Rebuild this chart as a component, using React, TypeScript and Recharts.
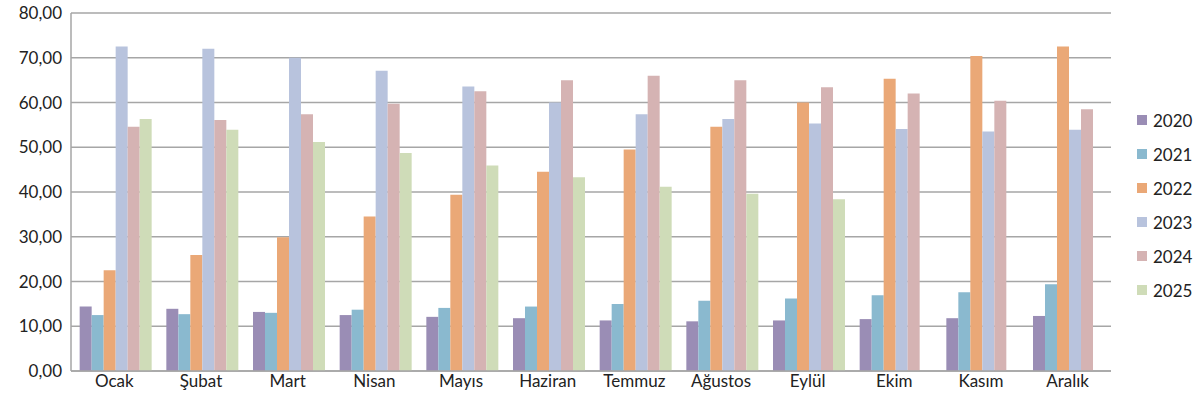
import React from 'react';
import { BarChart, Bar, XAxis, YAxis, CartesianGrid, Legend } from 'recharts';

// Monthly values per year
const months = ['Ocak', 'Şubat', 'Mart', 'Nisan', 'Mayıs', 'Haziran', 'Temmuz', 'Ağustos', 'Eylül', 'Ekim', 'Kasım', 'Aralık'];

const y2020 = [14.4, 13.9, 13.2, 12.5, 12.1, 11.8, 11.3, 11.1, 11.3, 11.6, 11.8, 12.3];
const y2021 = [12.5, 12.7, 13.0, 13.7, 14.1, 14.4, 15.0, 15.7, 16.2, 16.9, 17.6, 19.4];
const y2022 = [22.5, 25.9, 29.9, 34.5, 39.4, 44.5, 49.5, 54.6, 60.0, 65.3, 70.4, 72.5];
const y2023 = [72.5, 72.0, 70.0, 67.1, 63.6, 60.0, 57.4, 56.3, 55.3, 54.1, 53.5, 53.9];
const y2024 = [54.6, 56.1, 57.4, 59.7, 62.5, 65.0, 66.0, 65.0, 63.4, 62.0, 60.4, 58.5];
const y2025 = [56.3, 53.9, 51.2, 48.7, 45.9, 43.3, 41.2, 39.6, 38.4, null, null, null];

const yTicks = [0, 10, 20, 30, 40, 50, 60, 70, 80];

const seriesKeys = ['2020', '2021', '2022', '2023', '2024', '2025'];
const seriesColors = ['#9a8db5', '#8ab9cf', '#eaa877', '#b8c3dd', '#d5b3b3', '#cfdcb8'];

const data = months.map((m, i) => ({
  month: m,
  '2020': y2020[i],
  '2021': y2021[i],
  '2022': y2022[i],
  '2023': y2023[i],
  '2024': y2024[i],
  '2025': y2025[i],
}));

const FONT = 'Lato, "Open Sans", sans-serif';

// "80" -> "80,00"
const fmt = (v: number) => v.toFixed(2).replace('.', ',');

function LegendBox() {
  return (
    <div style={{ fontFamily: FONT, fontSize: 17, color: '#222' }}>
      {seriesKeys.map((k, i) => (
        <div key={k} style={{ display: 'flex', alignItems: 'center', height: 34 }}>
          <span style={{ width: 10, height: 10, background: seriesColors[i], marginRight: 6, display: 'inline-block' }} />
          <span>{k}</span>
        </div>
      ))}
    </div>
  );
}

export default function App() {
  return (
    <div style={{ position: 'absolute', left: 0, top: 0, background: '#fff' }}>
      <BarChart
        width={1199}
        height={410}
        data={data}
        margin={{ top: 13, right: 88, left: 0, bottom: 0 }}
        barCategoryGap="10%"
        barGap={0}
      >
        <CartesianGrid vertical={false} stroke="#a6a6a6" strokeWidth={1.5} />
        <XAxis
          dataKey="month"
          height={39}
          tickLine={false}
          tickSize={0}
          tickMargin={4}
          axisLine={{ stroke: '#a6a6a6', strokeWidth: 1.5 }}
          tick={{ fontSize: 17, fill: '#222', fontFamily: FONT }}
          interval={0}
        />
        <YAxis
          width={71}
          domain={[0, 80]}
          ticks={yTicks}
          tickFormatter={fmt}
          tickLine={false}
          tickSize={0}
          tickMargin={9}
          axisLine={{ stroke: '#a6a6a6', strokeWidth: 1.5 }}
          tick={{ fontSize: 17, fill: '#222', fontFamily: FONT }}
          interval={0}
        />
        {/* horizontal + middle keeps the legend from shrinking the plot */}
        <Legend
          layout="horizontal"
          align="center"
          verticalAlign="middle"
          content={() => <LegendBox />}
          wrapperStyle={{ left: 1137, top: 103, width: 60 }}
        />
        {seriesKeys.map((k, i) => (
          <Bar key={k} dataKey={k} name={k} fill={seriesColors[i]} isAnimationActive={false} />
        ))}
      </BarChart>
    </div>
  );
}
